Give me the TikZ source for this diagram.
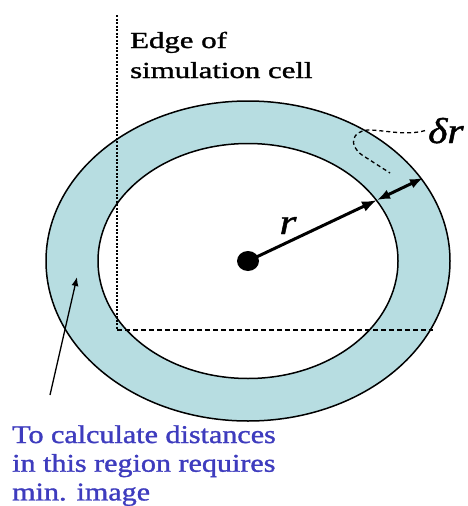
\documentclass[tikz,border=0pt]{standalone}
\usepackage{fontspec}
\setmainfont{Liberation Serif}[FakeBold=1.2]
\usepackage{graphicx}
\usetikzlibrary{arrows.meta}
\definecolor{ringblue}{RGB}{183,221,225}
\definecolor{notecol}{RGB}{62,60,190}

\begin{document}
\begin{tikzpicture}[x=1pt,y=-1pt,
    rim/.style={line width=1.5pt},
    cellline/.style={line width=1.3pt, dash pattern=on 5pt off 3pt},
    radarrow/.style={line width=3pt, -{Latex[length=15pt,width=11pt]}},
    shellarrow/.style={line width=3pt, {Latex[length=13pt,width=10pt]}-{Latex[length=13pt,width=10pt]}}]
    \useasboundingbox (0,0) rectangle (467,506);

    \coordinate (O) at (248,261);

    % shell between r and r+dr
    \fill[ringblue, even odd rule] (O) ellipse (202pt and 160pt) (O) ellipse (150pt and 117.5pt);
    \draw[rim] (O) ellipse (202pt and 160pt);
    \draw[rim] (O) ellipse (150pt and 117.5pt);

    % edges of the cell
    \coordinate (K) at (117,330);
    \coordinate (Ktop) at (117,15);
    \coordinate (Kright) at (433,330);
    \draw[line width=1.5pt, dash pattern=on 2pt off 1.5pt] (Ktop) -- (K);
    \draw[cellline] (K) -- (Kright);

    % radius and shell width
    \coordinate (A) at (377,200);
    \coordinate (B) at (423,178);
    \fill (O) ellipse (11pt and 10pt);
    \draw[radarrow] (O) -- (A);
    \draw[shellarrow] (A) -- (B);

    \node[anchor=base, inner sep=0] (rlab) at (288,234)
        {\fontsize{36}{36}\selectfont\itshape\scalebox{1.2}[1]{r}};
    \node[anchor=base west, inner sep=0] (drlab) at (428,143)
        {\fontsize{36}{36}\selectfont\itshape\scalebox{1.15}[1]{δr}};
    \draw[line width=1.3pt, dash pattern=on 4pt off 3pt] ([xshift=-3pt]drlab.west)
        .. controls (405,136) and (385,130) .. (368,130)
        .. controls (352,131) and (348,145) .. (362,155) -- (390,173);

    \node[anchor=base west, inner sep=0] (cellnote) at (130,48)
        {\fontsize{23}{30}\selectfont\scalebox{1.34}[1]{\begin{tabular}[t]{@{}l@{}}Edge of\\simulation cell\end{tabular}}};

    % note on the minimum image
    \node[anchor=base west, inner sep=0, text=notecol] (imgnote) at (12,443)
        {\fontsize{25.5}{28.7}\selectfont\scalebox{1.18}[1]{\begin{tabular}[t]{@{}l@{}}To calculate distances\\in this region requires\\min. image\end{tabular}}};
    \coordinate (P) at (50,395);
    \coordinate (Q) at (77,277);
    \draw[line width=1.3pt, -{Latex[length=9pt,width=7pt]}] (P) -- (Q);

\end{tikzpicture}
\end{document}
